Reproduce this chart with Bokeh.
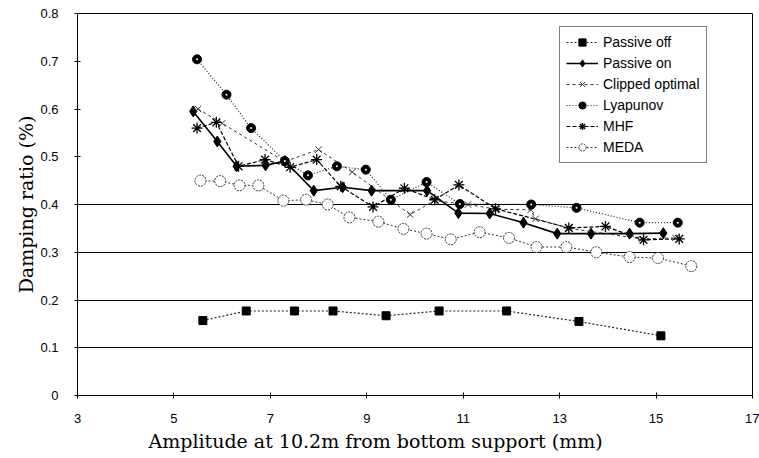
from bokeh.plotting import figure
from bokeh.models import Legend, LegendItem, FixedTicker, Title
from bokeh.embed import file_html
from bokeh.resources import INLINE

# ---- data ----
off_x = [5.6, 6.5, 7.5, 8.3, 9.4, 10.5, 11.9, 13.4, 15.1]
off_y = [0.157, 0.177, 0.177, 0.177, 0.167, 0.177, 0.177, 0.155, 0.125]

on_x = [5.4, 5.9, 6.3, 6.9, 7.3, 7.9, 8.5, 9.1, 10.25, 10.9, 11.55, 12.25, 12.95, 13.65, 14.45, 15.15]
on_y = [0.595, 0.532, 0.48, 0.482, 0.491, 0.429, 0.436, 0.429, 0.429, 0.382, 0.381, 0.362, 0.339, 0.339, 0.339, 0.34]

co_x = [5.5, 6.0, 7.3, 8.0, 8.7, 9.9, 10.4, 11.1, 11.7, 12.4, 12.5, 13.2, 14.7, 15.4]
co_y = [0.60, 0.57, 0.49, 0.515, 0.468, 0.379, 0.408, 0.40, 0.39, 0.389, 0.37, 0.35, 0.328, 0.33]

ly_x = [5.48, 6.09, 6.6, 7.3, 7.78, 8.38, 8.98, 9.5, 10.24, 10.93, 12.41, 13.35, 14.66, 15.45]
ly_y = [0.704, 0.63, 0.56, 0.491, 0.461, 0.48, 0.473, 0.41, 0.447, 0.401, 0.40, 0.393, 0.362, 0.362]

mhf_x = [5.48, 5.88, 6.34, 6.89, 7.41, 7.96, 8.46, 9.13, 9.78, 10.41, 10.91, 11.67, 13.19, 13.95, 14.74, 15.48]
mhf_y = [0.56, 0.572, 0.48, 0.494, 0.478, 0.494, 0.438, 0.395, 0.434, 0.41, 0.441, 0.391, 0.351, 0.354, 0.326, 0.328]

meda_x = [5.55, 5.96, 6.36, 6.75, 7.27, 7.74, 8.19, 8.64, 9.24, 9.76, 10.24, 10.74, 11.34, 11.95, 12.52, 13.14, 13.76, 14.45, 15.04, 15.73]
meda_y = [0.45, 0.449, 0.44, 0.44, 0.408, 0.41, 0.40, 0.373, 0.364, 0.349, 0.339, 0.327, 0.342, 0.33, 0.311, 0.311, 0.30, 0.29, 0.288, 0.271]

x_ticks = [3, 5, 7, 9, 11, 13, 15, 17]
y_ticks = [0, 0.1, 0.2, 0.3, 0.4, 0.5, 0.6, 0.7, 0.8]
grid_ticks = [0.1, 0.2, 0.3, 0.4]

x_title = "Amplitude at 10.2m from bottom support (mm)"
y_title = "Damping ratio (%)"

SANS = "Liberation Sans"
SERIF = "DejaVu Serif"

p = figure(frame_width=675, frame_height=382, x_range=(3, 17), y_range=(0, 0.8),
           output_backend="svg", toolbar_location=None,
           min_border_left=77, min_border_top=13, min_border_right=7, min_border_bottom=0)
p.background_fill_color = "white"
p.border_fill_color = "white"
p.outline_line_color = "black"
p.outline_line_width = 1

p.xgrid.visible = False
p.ygrid.ticker = FixedTicker(ticks=grid_ticks)
p.ygrid.grid_line_color = "black"
p.ygrid.grid_line_width = 1

p.xaxis.ticker = FixedTicker(ticks=x_ticks)
p.yaxis.ticker = FixedTicker(ticks=y_ticks)
p.yaxis.major_label_overrides = {0: "0"}
for ax in (p.xaxis, p.yaxis):
    ax.axis_line_color = "black"
    ax.major_tick_line_color = "black"
    ax.major_tick_out = 3
    ax.major_tick_in = 3
    ax.minor_tick_line_color = None
    ax.major_label_text_font = SANS
    ax.major_label_text_font_size = "13px"
    ax.major_label_text_color = "black"
p.xaxis.major_label_standoff = 15
p.yaxis.major_label_standoff = 16

p.yaxis.axis_label = y_title
p.yaxis.axis_label_text_font = SERIF
p.yaxis.axis_label_text_font_size = "19px"
p.yaxis.axis_label_text_font_style = "normal"
p.yaxis.axis_label_text_color = "black"
p.yaxis.axis_label_standoff = 0

t = Title(text=x_title, align="left", offset=71, text_font=SERIF, text_font_size="19px",
          text_font_style="normal", text_color="black", standoff=5)
p.add_layout(t, "below")

items = []

r1 = p.line(off_x, off_y, line_color="#222222", line_width=1.2, line_dash="2 2")
r1m = p.scatter(off_x, off_y, marker="square", size=8, fill_color="black", line_color="black")
items.append(LegendItem(label="Passive off", renderers=[r1, r1m]))

r2 = p.line(on_x, on_y, line_color="black", line_width=1.6)
r2m = p.scatter(on_x, on_y, marker="diamond", size=11, fill_color="black", line_color="black")
items.append(LegendItem(label="Passive on", renderers=[r2, r2m]))

r3 = p.line(co_x, co_y, line_color="#333333", line_width=1, line_dash="3 3")
r3m = p.scatter(co_x, co_y, marker="x", size=9, line_color="#333333", line_width=1)
items.append(LegendItem(label="Clipped optimal", renderers=[r3, r3m]))

r4 = p.line(ly_x, ly_y, line_color="#222222", line_width=1.2, line_dash="1 2")
r4m = p.scatter(ly_x, ly_y, marker="circle", size=9, fill_color="black", line_color="black")
r4d = p.scatter(ly_x, ly_y, marker="circle", size=2, fill_color="white", line_color=None)
items.append(LegendItem(label="Lyapunov", renderers=[r4, r4m]))

r5 = p.line(mhf_x, mhf_y, line_color="black", line_width=1.2, line_dash="4 2")
r5m = p.scatter(mhf_x, mhf_y, marker="asterisk", size=11, line_color="black", line_width=1.3)
items.append(LegendItem(label="MHF", renderers=[r5, r5m]))

r6 = p.line(meda_x, meda_y, line_color="#333333", line_width=1, line_dash="2 2")
r6m = p.scatter(meda_x, meda_y, marker="circle", size=11, fill_color="white",
                line_color="#333333", line_width=1, line_dash="2 1")
items.append(LegendItem(label="MEDA", renderers=[r6, r6m]))

legend = Legend(items=items, location=(482, 232))
legend.border_line_color = "black"
legend.border_line_width = 1
legend.background_fill_color = "white"
legend.background_fill_alpha = 1
legend.label_text_font = SANS
legend.label_text_font_size = "14px"
legend.label_text_color = "black"
legend.glyph_width = 32
legend.glyph_height = 18
legend.label_height = 18
legend.label_standoff = 5
legend.spacing = 3
legend.padding = 6
legend.margin = 0
p.add_layout(legend, "center")

open("out.html", "w").write(file_html(p, INLINE))
